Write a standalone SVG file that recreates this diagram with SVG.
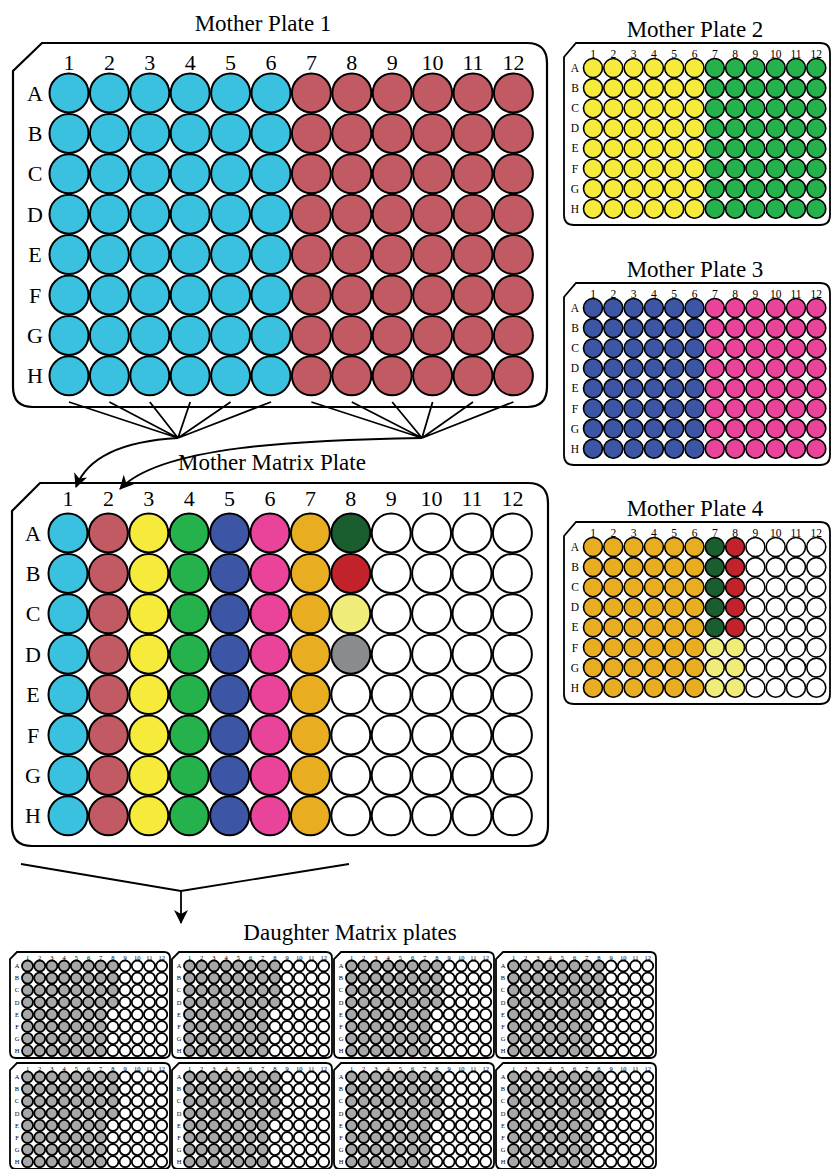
<svg xmlns="http://www.w3.org/2000/svg" xmlns:xlink="http://www.w3.org/1999/xlink" width="831" height="1169" viewBox="0 0 831 1169">
<style>
.t{font-family:"Liberation Serif","Times New Roman",serif;fill:#000}
.tl{font-size:22px;text-anchor:middle}
.ttl{font-size:23px;text-anchor:middle}
.sl{font-size:11.5px;text-anchor:middle}
.dl{font-size:6.5px;text-anchor:middle}
.w{stroke:#000;stroke-width:2}
.ws{stroke:#000;stroke-width:1.6}
.wd{stroke:#000;stroke-width:1.8}
.plate{fill:#fff;stroke:#000;stroke-width:2.2}
.splate{fill:#fff;stroke:#000;stroke-width:1.8}
.dplate{fill:#fff;stroke:#000;stroke-width:1.8}
.conn{fill:none;stroke:#000;stroke-width:1.8}
</style>
<defs>
<marker id="ah" markerUnits="userSpaceOnUse" markerWidth="16" markerHeight="14" refX="13" refY="7" orient="auto" viewBox="0 0 16 14">
<path d="M0,0 L14,7 L0,14 L4,7 Z" fill="#000"/>
</marker>
<g id="bc" class="w"><circle cy="0" r="19.5"/><circle cy="40.4" r="19.5"/><circle cy="80.8" r="19.5"/><circle cy="121.2" r="19.5"/><circle cy="161.6" r="19.5"/><circle cy="202" r="19.5"/><circle cy="242.4" r="19.5"/><circle cy="282.8" r="19.5"/></g>
<g id="sc" class="ws"><circle cy="0" r="9.5"/><circle cy="20.1" r="9.5"/><circle cy="40.2" r="9.5"/><circle cy="60.3" r="9.5"/><circle cy="80.4" r="9.5"/><circle cy="100.5" r="9.5"/><circle cy="120.6" r="9.5"/><circle cy="140.7" r="9.5"/></g>
<g id="dc" class="wd"><circle cy="0" r="5.5"/><circle cy="12.1" r="5.5"/><circle cy="24.2" r="5.5"/><circle cy="36.3" r="5.5"/><circle cy="48.4" r="5.5"/><circle cy="60.5" r="5.5"/><circle cy="72.6" r="5.5"/><circle cy="84.7" r="5.5"/></g>
<g id="dp">
<path class="dplate" d="M7,0 H154 Q160,0 160,6 V100 Q160,106 154,106 H6 Q0,106 0,100 V7 Z"/>
<use xlink:href="#dc" x="17.5" y="14" fill="#A6A7A9"/>
<use xlink:href="#dc" x="29.7" y="14" fill="#A6A7A9"/>
<use xlink:href="#dc" x="41.9" y="14" fill="#A6A7A9"/>
<use xlink:href="#dc" x="54.1" y="14" fill="#A6A7A9"/>
<use xlink:href="#dc" x="66.3" y="14" fill="#A6A7A9"/>
<use xlink:href="#dc" x="78.5" y="14" fill="#A6A7A9"/>
<use xlink:href="#dc" x="90.7" y="14" fill="#A6A7A9"/>
<g class="wd"><circle cx="102.9" cy="14" r="5.5" fill="#A6A7A9"/><circle cx="102.9" cy="26.1" r="5.5" fill="#A6A7A9"/><circle cx="102.9" cy="38.2" r="5.5" fill="#A6A7A9"/><circle cx="102.9" cy="50.3" r="5.5" fill="#A6A7A9"/><circle cx="102.9" cy="62.4" r="5.5" fill="#fff"/><circle cx="102.9" cy="74.5" r="5.5" fill="#fff"/><circle cx="102.9" cy="86.6" r="5.5" fill="#fff"/><circle cx="102.9" cy="98.7" r="5.5" fill="#fff"/></g>
<use xlink:href="#dc" x="115.1" y="14" fill="#fff"/>
<use xlink:href="#dc" x="127.3" y="14" fill="#fff"/>
<use xlink:href="#dc" x="139.5" y="14" fill="#fff"/>
<use xlink:href="#dc" x="151.7" y="14" fill="#fff"/>
</g>
</defs>
<rect width="831" height="1169" fill="#fff"/>

<g id="mother-plate-1">
<text class="t ttl" x="263" y="31">Mother Plate 1</text>
<path class="plate" d="M42,43 H527 Q547,43 547,63 V387 Q547,407 527,407 H33 Q13,407 13,387 V71 Z"/>
<g class="t tl">
<text x="69" y="70">1</text><text x="109.4" y="70">2</text><text x="149.8" y="70">3</text><text x="190.2" y="70">4</text><text x="230.6" y="70">5</text><text x="271" y="70">6</text><text x="311.4" y="70">7</text><text x="351.8" y="70">8</text><text x="392.2" y="70">9</text><text x="432.6" y="70">10</text><text x="473" y="70">11</text><text x="513.4" y="70">12</text>
<text x="35" y="100.5">A</text><text x="35" y="140.9">B</text><text x="35" y="181.3">C</text><text x="35" y="221.7">D</text><text x="35" y="262.1">E</text><text x="35" y="302.5">F</text><text x="35" y="342.9">G</text><text x="35" y="383.3">H</text>
</g>
<use xlink:href="#bc" x="69" y="93" fill="#3AC1DF"/>
<use xlink:href="#bc" x="109.4" y="93" fill="#3AC1DF"/>
<use xlink:href="#bc" x="149.8" y="93" fill="#3AC1DF"/>
<use xlink:href="#bc" x="190.2" y="93" fill="#3AC1DF"/>
<use xlink:href="#bc" x="230.6" y="93" fill="#3AC1DF"/>
<use xlink:href="#bc" x="271" y="93" fill="#3AC1DF"/>
<use xlink:href="#bc" x="311.4" y="93" fill="#C25A64"/>
<use xlink:href="#bc" x="351.8" y="93" fill="#C25A64"/>
<use xlink:href="#bc" x="392.2" y="93" fill="#C25A64"/>
<use xlink:href="#bc" x="432.6" y="93" fill="#C25A64"/>
<use xlink:href="#bc" x="473" y="93" fill="#C25A64"/>
<use xlink:href="#bc" x="513.4" y="93" fill="#C25A64"/>
</g>

<g id="mother-matrix-plate">
<text class="t ttl" x="272" y="470">Mother Matrix Plate</text>
<path class="plate" d="M40,483 H528 Q548,483 548,503 V826 Q548,846 528,846 H32 Q12,846 12,826 V511 Z"/>
<g class="t tl">
<text x="68" y="506">1</text><text x="108.4" y="506">2</text><text x="148.8" y="506">3</text><text x="189.2" y="506">4</text><text x="229.6" y="506">5</text><text x="270" y="506">6</text><text x="310.4" y="506">7</text><text x="350.8" y="506">8</text><text x="391.2" y="506">9</text><text x="431.6" y="506">10</text><text x="472" y="506">11</text><text x="512.4" y="506">12</text>
<text x="33" y="540.5">A</text><text x="33" y="580.9">B</text><text x="33" y="621.3">C</text><text x="33" y="661.7">D</text><text x="33" y="702.1">E</text><text x="33" y="742.5">F</text><text x="33" y="782.9">G</text><text x="33" y="823.3">H</text>
</g>
<use xlink:href="#bc" x="68" y="533" fill="#3AC1DF"/>
<use xlink:href="#bc" x="108.4" y="533" fill="#C25A64"/>
<use xlink:href="#bc" x="148.8" y="533" fill="#F6EB3B"/>
<use xlink:href="#bc" x="189.2" y="533" fill="#25B14C"/>
<use xlink:href="#bc" x="229.6" y="533" fill="#3C55A5"/>
<use xlink:href="#bc" x="270" y="533" fill="#E9449A"/>
<use xlink:href="#bc" x="310.4" y="533" fill="#E9AD22"/>
<g class="w">
<circle cx="350.8" cy="533" r="19.5" fill="#1A5E30"/>
<circle cx="350.8" cy="573.4" r="19.5" fill="#C2232B"/>
<circle cx="350.8" cy="613.8" r="19.5" fill="#F0EC7A"/>
<circle cx="350.8" cy="654.2" r="19.5" fill="#8A8B8D"/>
<circle cx="350.8" cy="694.6" r="19.5" fill="#fff"/>
<circle cx="350.8" cy="735" r="19.5" fill="#fff"/>
<circle cx="350.8" cy="775.4" r="19.5" fill="#fff"/>
<circle cx="350.8" cy="815.8" r="19.5" fill="#fff"/>
</g>
<use xlink:href="#bc" x="391.2" y="533" fill="#fff"/>
<use xlink:href="#bc" x="431.6" y="533" fill="#fff"/>
<use xlink:href="#bc" x="472" y="533" fill="#fff"/>
<use xlink:href="#bc" x="512.4" y="533" fill="#fff"/>
</g>

<g id="mother-plate-2" transform="translate(564,43)">
<text class="t ttl" x="131" y="-6">Mother Plate 2</text>
<path class="splate" d="M12,0 H256 Q266,0 266,10 V172 Q266,182 256,182 H10 Q0,182 0,172 V14 Z"/>
<g class="t sl">
<text x="29" y="15">1</text><text x="49.3" y="15">2</text><text x="69.6" y="15">3</text><text x="89.9" y="15">4</text><text x="110.2" y="15">5</text><text x="130.5" y="15">6</text><text x="150.8" y="15">7</text><text x="171.1" y="15">8</text><text x="191.4" y="15">9</text><text x="211.7" y="15">10</text><text x="232" y="15">11</text><text x="252.3" y="15">12</text>
<text x="11" y="29">A</text><text x="11" y="49.1">B</text><text x="11" y="69.2">C</text><text x="11" y="89.3">D</text><text x="11" y="109.4">E</text><text x="11" y="129.5">F</text><text x="11" y="149.6">G</text><text x="11" y="169.7">H</text>
</g>
<use xlink:href="#sc" x="29" y="25" fill="#F6EB3B"/>
<use xlink:href="#sc" x="49.3" y="25" fill="#F6EB3B"/>
<use xlink:href="#sc" x="69.6" y="25" fill="#F6EB3B"/>
<use xlink:href="#sc" x="89.9" y="25" fill="#F6EB3B"/>
<use xlink:href="#sc" x="110.2" y="25" fill="#F6EB3B"/>
<use xlink:href="#sc" x="130.5" y="25" fill="#F6EB3B"/>
<use xlink:href="#sc" x="150.8" y="25" fill="#25B14C"/>
<use xlink:href="#sc" x="171.1" y="25" fill="#25B14C"/>
<use xlink:href="#sc" x="191.4" y="25" fill="#25B14C"/>
<use xlink:href="#sc" x="211.7" y="25" fill="#25B14C"/>
<use xlink:href="#sc" x="232" y="25" fill="#25B14C"/>
<use xlink:href="#sc" x="252.3" y="25" fill="#25B14C"/>
</g>

<g id="mother-plate-3" transform="translate(564,283)">
<text class="t ttl" x="131" y="-6">Mother Plate 3</text>
<path class="splate" d="M12,0 H256 Q266,0 266,10 V172 Q266,182 256,182 H10 Q0,182 0,172 V14 Z"/>
<g class="t sl">
<text x="29" y="15">1</text><text x="49.3" y="15">2</text><text x="69.6" y="15">3</text><text x="89.9" y="15">4</text><text x="110.2" y="15">5</text><text x="130.5" y="15">6</text><text x="150.8" y="15">7</text><text x="171.1" y="15">8</text><text x="191.4" y="15">9</text><text x="211.7" y="15">10</text><text x="232" y="15">11</text><text x="252.3" y="15">12</text>
<text x="11" y="29">A</text><text x="11" y="49.1">B</text><text x="11" y="69.2">C</text><text x="11" y="89.3">D</text><text x="11" y="109.4">E</text><text x="11" y="129.5">F</text><text x="11" y="149.6">G</text><text x="11" y="169.7">H</text>
</g>
<use xlink:href="#sc" x="29" y="25" fill="#3C55A5"/>
<use xlink:href="#sc" x="49.3" y="25" fill="#3C55A5"/>
<use xlink:href="#sc" x="69.6" y="25" fill="#3C55A5"/>
<use xlink:href="#sc" x="89.9" y="25" fill="#3C55A5"/>
<use xlink:href="#sc" x="110.2" y="25" fill="#3C55A5"/>
<use xlink:href="#sc" x="130.5" y="25" fill="#3C55A5"/>
<use xlink:href="#sc" x="150.8" y="25" fill="#E9449A"/>
<use xlink:href="#sc" x="171.1" y="25" fill="#E9449A"/>
<use xlink:href="#sc" x="191.4" y="25" fill="#E9449A"/>
<use xlink:href="#sc" x="211.7" y="25" fill="#E9449A"/>
<use xlink:href="#sc" x="232" y="25" fill="#E9449A"/>
<use xlink:href="#sc" x="252.3" y="25" fill="#E9449A"/>
</g>

<g id="mother-plate-4" transform="translate(564,522)">
<text class="t ttl" x="131" y="-6">Mother Plate 4</text>
<path class="splate" d="M12,0 H256 Q266,0 266,10 V172 Q266,182 256,182 H10 Q0,182 0,172 V14 Z"/>
<g class="t sl">
<text x="29" y="15">1</text><text x="49.3" y="15">2</text><text x="69.6" y="15">3</text><text x="89.9" y="15">4</text><text x="110.2" y="15">5</text><text x="130.5" y="15">6</text><text x="150.8" y="15">7</text><text x="171.1" y="15">8</text><text x="191.4" y="15">9</text><text x="211.7" y="15">10</text><text x="232" y="15">11</text><text x="252.3" y="15">12</text>
<text x="11" y="29">A</text><text x="11" y="49.1">B</text><text x="11" y="69.2">C</text><text x="11" y="89.3">D</text><text x="11" y="109.4">E</text><text x="11" y="129.5">F</text><text x="11" y="149.6">G</text><text x="11" y="169.7">H</text>
</g>
<use xlink:href="#sc" x="29" y="25" fill="#E9AD22"/>
<use xlink:href="#sc" x="49.3" y="25" fill="#E9AD22"/>
<use xlink:href="#sc" x="69.6" y="25" fill="#E9AD22"/>
<use xlink:href="#sc" x="89.9" y="25" fill="#E9AD22"/>
<use xlink:href="#sc" x="110.2" y="25" fill="#E9AD22"/>
<use xlink:href="#sc" x="130.5" y="25" fill="#E9AD22"/>
<g class="ws">
<circle cx="150.8" cy="25" r="9.5" fill="#1A5E30"/><circle cx="150.8" cy="45.1" r="9.5" fill="#1A5E30"/><circle cx="150.8" cy="65.2" r="9.5" fill="#1A5E30"/><circle cx="150.8" cy="85.3" r="9.5" fill="#1A5E30"/><circle cx="150.8" cy="105.4" r="9.5" fill="#1A5E30"/><circle cx="150.8" cy="125.5" r="9.5" fill="#F0EC7A"/><circle cx="150.8" cy="145.6" r="9.5" fill="#F0EC7A"/><circle cx="150.8" cy="165.7" r="9.5" fill="#F0EC7A"/>
<circle cx="171.1" cy="25" r="9.5" fill="#C2232B"/><circle cx="171.1" cy="45.1" r="9.5" fill="#C2232B"/><circle cx="171.1" cy="65.2" r="9.5" fill="#C2232B"/><circle cx="171.1" cy="85.3" r="9.5" fill="#C2232B"/><circle cx="171.1" cy="105.4" r="9.5" fill="#C2232B"/><circle cx="171.1" cy="125.5" r="9.5" fill="#F0EC7A"/><circle cx="171.1" cy="145.6" r="9.5" fill="#F0EC7A"/><circle cx="171.1" cy="165.7" r="9.5" fill="#F0EC7A"/>
</g>
<use xlink:href="#sc" x="191.4" y="25" fill="#fff"/>
<use xlink:href="#sc" x="211.7" y="25" fill="#fff"/>
<use xlink:href="#sc" x="232" y="25" fill="#fff"/>
<use xlink:href="#sc" x="252.3" y="25" fill="#fff"/>
</g>

<g id="connectors" class="conn">
<path d="M69,402 L178,438 M109.4,402 L178,438 M149.8,402 L178,438 M190.2,402 L178,438 M230.6,402 L178,438 M271,402 L178,438"/>
<path d="M311.4,402 L422,438 M351.8,402 L422,438 M392.2,402 L422,438 M432.6,402 L422,438 M473,402 L422,438 M513.4,402 L422,438"/>
<path d="M178,438 C125,441 88,456 76,487" marker-end="url(#ah)"/>
<path d="M422,438 C300,440 160,446 120,489" marker-end="url(#ah)"/>
<path d="M21,864 L181,891 L349,864"/>
<path d="M181,891 V923" marker-end="url(#ah)"/>
</g>

<text id="daughter-title" class="t ttl" x="350" y="940">Daughter Matrix plates</text>

<g id="daughter-1" transform="translate(10,952)">
<use xlink:href="#dp"/>
<g class="t dl"><text x="17.5" y="8">1</text><text x="29.7" y="8">2</text><text x="41.9" y="8">3</text><text x="54.1" y="8">4</text><text x="66.3" y="8">5</text><text x="78.5" y="8">6</text><text x="90.7" y="8">7</text><text x="102.9" y="8">8</text><text x="115.1" y="8">9</text><text x="127.3" y="8">10</text><text x="139.5" y="8">11</text><text x="151.7" y="8">12</text>
<text x="7" y="16.2">A</text><text x="7" y="28.3">B</text><text x="7" y="40.4">C</text><text x="7" y="52.5">D</text><text x="7" y="64.6">E</text><text x="7" y="76.7">F</text><text x="7" y="88.8">G</text><text x="7" y="100.9">H</text></g>
</g>
<g id="daughter-2" transform="translate(172,952)">
<use xlink:href="#dp"/>
<g class="t dl"><text x="17.5" y="8">1</text><text x="29.7" y="8">2</text><text x="41.9" y="8">3</text><text x="54.1" y="8">4</text><text x="66.3" y="8">5</text><text x="78.5" y="8">6</text><text x="90.7" y="8">7</text><text x="102.9" y="8">8</text><text x="115.1" y="8">9</text><text x="127.3" y="8">10</text><text x="139.5" y="8">11</text><text x="151.7" y="8">12</text>
<text x="7" y="16.2">A</text><text x="7" y="28.3">B</text><text x="7" y="40.4">C</text><text x="7" y="52.5">D</text><text x="7" y="64.6">E</text><text x="7" y="76.7">F</text><text x="7" y="88.8">G</text><text x="7" y="100.9">H</text></g>
</g>
<g id="daughter-3" transform="translate(334,952)">
<use xlink:href="#dp"/>
<g class="t dl"><text x="17.5" y="8">1</text><text x="29.7" y="8">2</text><text x="41.9" y="8">3</text><text x="54.1" y="8">4</text><text x="66.3" y="8">5</text><text x="78.5" y="8">6</text><text x="90.7" y="8">7</text><text x="102.9" y="8">8</text><text x="115.1" y="8">9</text><text x="127.3" y="8">10</text><text x="139.5" y="8">11</text><text x="151.7" y="8">12</text>
<text x="7" y="16.2">A</text><text x="7" y="28.3">B</text><text x="7" y="40.4">C</text><text x="7" y="52.5">D</text><text x="7" y="64.6">E</text><text x="7" y="76.7">F</text><text x="7" y="88.8">G</text><text x="7" y="100.9">H</text></g>
</g>
<g id="daughter-4" transform="translate(496,952)">
<use xlink:href="#dp"/>
<g class="t dl"><text x="17.5" y="8">1</text><text x="29.7" y="8">2</text><text x="41.9" y="8">3</text><text x="54.1" y="8">4</text><text x="66.3" y="8">5</text><text x="78.5" y="8">6</text><text x="90.7" y="8">7</text><text x="102.9" y="8">8</text><text x="115.1" y="8">9</text><text x="127.3" y="8">10</text><text x="139.5" y="8">11</text><text x="151.7" y="8">12</text>
<text x="7" y="16.2">A</text><text x="7" y="28.3">B</text><text x="7" y="40.4">C</text><text x="7" y="52.5">D</text><text x="7" y="64.6">E</text><text x="7" y="76.7">F</text><text x="7" y="88.8">G</text><text x="7" y="100.9">H</text></g>
</g>
<g id="daughter-5" transform="translate(10,1063)">
<use xlink:href="#dp"/>
<g class="t dl"><text x="17.5" y="8">1</text><text x="29.7" y="8">2</text><text x="41.9" y="8">3</text><text x="54.1" y="8">4</text><text x="66.3" y="8">5</text><text x="78.5" y="8">6</text><text x="90.7" y="8">7</text><text x="102.9" y="8">8</text><text x="115.1" y="8">9</text><text x="127.3" y="8">10</text><text x="139.5" y="8">11</text><text x="151.7" y="8">12</text>
<text x="7" y="16.2">A</text><text x="7" y="28.3">B</text><text x="7" y="40.4">C</text><text x="7" y="52.5">D</text><text x="7" y="64.6">E</text><text x="7" y="76.7">F</text><text x="7" y="88.8">G</text><text x="7" y="100.9">H</text></g>
</g>
<g id="daughter-6" transform="translate(172,1063)">
<use xlink:href="#dp"/>
<g class="t dl"><text x="17.5" y="8">1</text><text x="29.7" y="8">2</text><text x="41.9" y="8">3</text><text x="54.1" y="8">4</text><text x="66.3" y="8">5</text><text x="78.5" y="8">6</text><text x="90.7" y="8">7</text><text x="102.9" y="8">8</text><text x="115.1" y="8">9</text><text x="127.3" y="8">10</text><text x="139.5" y="8">11</text><text x="151.7" y="8">12</text>
<text x="7" y="16.2">A</text><text x="7" y="28.3">B</text><text x="7" y="40.4">C</text><text x="7" y="52.5">D</text><text x="7" y="64.6">E</text><text x="7" y="76.7">F</text><text x="7" y="88.8">G</text><text x="7" y="100.9">H</text></g>
</g>
<g id="daughter-7" transform="translate(334,1063)">
<use xlink:href="#dp"/>
<g class="t dl"><text x="17.5" y="8">1</text><text x="29.7" y="8">2</text><text x="41.9" y="8">3</text><text x="54.1" y="8">4</text><text x="66.3" y="8">5</text><text x="78.5" y="8">6</text><text x="90.7" y="8">7</text><text x="102.9" y="8">8</text><text x="115.1" y="8">9</text><text x="127.3" y="8">10</text><text x="139.5" y="8">11</text><text x="151.7" y="8">12</text>
<text x="7" y="16.2">A</text><text x="7" y="28.3">B</text><text x="7" y="40.4">C</text><text x="7" y="52.5">D</text><text x="7" y="64.6">E</text><text x="7" y="76.7">F</text><text x="7" y="88.8">G</text><text x="7" y="100.9">H</text></g>
</g>
<g id="daughter-8" transform="translate(496,1063)">
<use xlink:href="#dp"/>
<g class="t dl"><text x="17.5" y="8">1</text><text x="29.7" y="8">2</text><text x="41.9" y="8">3</text><text x="54.1" y="8">4</text><text x="66.3" y="8">5</text><text x="78.5" y="8">6</text><text x="90.7" y="8">7</text><text x="102.9" y="8">8</text><text x="115.1" y="8">9</text><text x="127.3" y="8">10</text><text x="139.5" y="8">11</text><text x="151.7" y="8">12</text>
<text x="7" y="16.2">A</text><text x="7" y="28.3">B</text><text x="7" y="40.4">C</text><text x="7" y="52.5">D</text><text x="7" y="64.6">E</text><text x="7" y="76.7">F</text><text x="7" y="88.8">G</text><text x="7" y="100.9">H</text></g>
</g>
</svg>
